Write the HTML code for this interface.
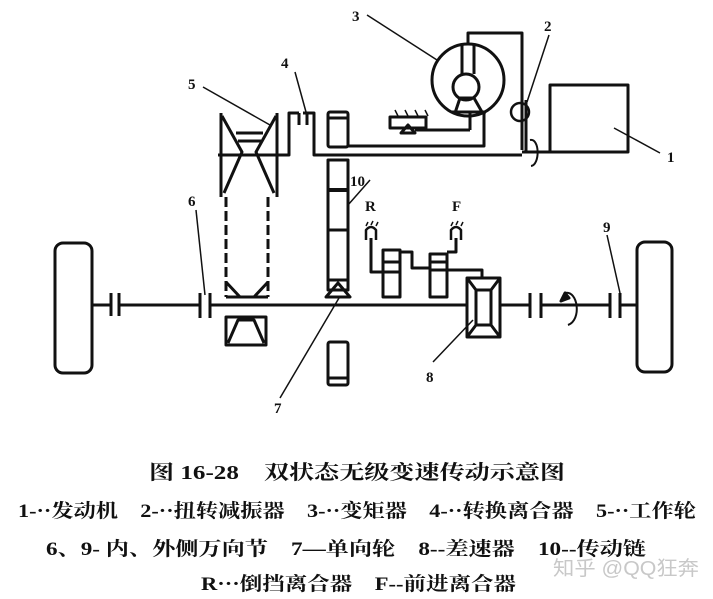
<!DOCTYPE html>
<html><head><meta charset="utf-8"><style>
html,body{margin:0;padding:0;background:#fff}
svg{display:block}
text{font-family:"Liberation Serif","Noto Serif CJK SC",serif;fill:#111}
.c{font-family:"Liberation Serif","Noto Serif CJK SC",serif;font-weight:bold}
</style></head><body>
<svg width="713" height="599" viewBox="0 0 713 599" xmlns="http://www.w3.org/2000/svg">
<g fill="none" stroke="#111" stroke-width="3" stroke-linejoin="round">
<rect x="55" y="243" width="37" height="130" rx="8"/>
<rect x="637" y="242" width="35" height="130" rx="8"/>
<line x1="92" y1="305" x2="112" y2="305"/>
<line x1="118" y1="305" x2="200" y2="305"/>
<line x1="210" y1="305" x2="467" y2="305"/>
<line x1="500" y1="305" x2="530" y2="305"/>
<line x1="541" y1="305" x2="610" y2="305"/>
<line x1="621" y1="305" x2="637" y2="305"/>
<g stroke-width="3">
<line x1="111" y1="293" x2="111" y2="316"/><line x1="119" y1="293" x2="119" y2="316"/>
<line x1="200" y1="293" x2="200" y2="318"/><line x1="210" y1="293" x2="210" y2="318"/>
<line x1="530" y1="293" x2="530" y2="318"/><line x1="541" y1="293" x2="541" y2="318"/>
<line x1="610" y1="293" x2="610" y2="318"/><line x1="620" y1="293" x2="620" y2="318"/>
</g>
<path d="M565 293 C578 290 582 320 568 325" stroke-width="2"/>
<path d="M565 293 l-4 8 l8 -3z" fill="#111"/>
<line x1="221" y1="113" x2="221" y2="197"/>
<line x1="277" y1="113" x2="277" y2="197"/>
<polyline points="222,116 242,152 224,193"/>
<polyline points="276,116 256,152 274,193"/>
<line x1="236" y1="133" x2="263" y2="133"/>
<line x1="238" y1="141" x2="261" y2="141"/>
<polyline points="218,155 289,155 289,113 299,113"/>
<polyline points="299,113 299,125"/>
<polyline points="303,113 314,113 314,155 522,155"/>
<line x1="307" y1="113" x2="307" y2="125"/>
<line x1="226" y1="197" x2="226" y2="297" stroke-dasharray="10 4"/>
<line x1="268" y1="197" x2="268" y2="297" stroke-dasharray="10 4"/>
<path d="M226 282 L240 297 M268 282 L254 297"/>
<line x1="226" y1="297" x2="268" y2="297"/>
<rect x="226" y="317" width="40" height="28"/>
<path d="M228 343 L238 320 L254 320 L264 343"/>
<rect x="328" y="112" width="20" height="35" rx="2"/>
<line x1="328" y1="118" x2="348" y2="118"/>
<rect x="328" y="160" width="20" height="130"/>
<line x1="328" y1="190" x2="348" y2="190" stroke-width="4"/>
<line x1="328" y1="230" x2="348" y2="230" stroke-width="3"/>
<line x1="328" y1="280" x2="348" y2="280"/>
<path d="M326 297 L338 283 L350 297 Z"/>
<rect x="328" y="342" width="20" height="43" rx="2"/>
<line x1="328" y1="378" x2="348" y2="378" stroke-width="3"/>
<circle cx="468" cy="80" r="36"/>
<circle cx="466" cy="87" r="13"/>
<polyline points="468,45 468,33 522,33 522,150"/>
<path d="M462 45 L462 74 M474 45 L474 74"/>
<path d="M455 113 L460 98 L474 98 L482 112 M452 112 L486 112"/>
<rect x="390" y="117" width="36" height="11"/>
<path d="M395 110 l3 6 M405 110 l3 6 M415 110 l3 6 M425 110 l3 6" stroke-width="1.5"/>
<path d="M401 133 L408 125 L415 133 Z"/>
<polyline points="348,146 484,146 484,112"/>
<line x1="415" y1="130" x2="470" y2="130"/>
<polyline points="470,130 470,112"/>
<circle cx="520" cy="112" r="9" stroke-width="2.5"/>
<line x1="526" y1="100" x2="526" y2="152"/>
<line x1="522" y1="152" x2="550" y2="152"/>
<path d="M530 140 C540 138 540 165 531 166" stroke-width="2"/>
<rect x="550" y="85" width="78" height="67"/>
<path d="M366 240 L366 230 Q371 224 376 230 L376 240" stroke-width="2.5"/>
<path d="M366 226 l2 -4 M371 225 l2 -4 M376 226 l2 -4" stroke-width="1.5"/>
<polyline points="371,238 371,272 383,272"/>
<rect x="383" y="250" width="17" height="47"/>
<line x1="383" y1="262" x2="400" y2="262"/><line x1="383" y1="272" x2="400" y2="272"/>
<polyline points="400,252 412,252 412,268 430,268"/>
<rect x="430" y="254" width="17" height="43"/>
<line x1="430" y1="262" x2="447" y2="262"/><line x1="430" y1="270" x2="447" y2="270"/>
<path d="M451 240 L451 230 Q456 224 461 230 L461 240" stroke-width="2.5"/>
<path d="M451 226 l2 -4 M456 225 l2 -4 M461 226 l2 -4" stroke-width="1.5"/>
<polyline points="456,238 456,252 447,252"/>
<polyline points="447,270 482,270 482,278"/>
<rect x="467" y="278" width="33" height="59"/>
<rect x="476" y="290" width="15" height="35"/>
<path d="M467 278 L476 290 M500 278 L491 290 M467 337 L476 325 M500 337 L491 325"/>
</g>
<g stroke="#111" stroke-width="1.5" fill="none">
<line x1="367" y1="15" x2="437" y2="60"/>
<line x1="549" y1="35" x2="527" y2="102"/>
<line x1="614" y1="128" x2="660" y2="153"/>
<line x1="295" y1="72" x2="306" y2="112"/>
<line x1="203" y1="87" x2="270" y2="125"/>
<line x1="196" y1="210" x2="205" y2="295"/>
<line x1="370" y1="180" x2="348" y2="205"/>
<line x1="339" y1="298" x2="280" y2="398"/>
<line x1="473" y1="320" x2="433" y2="362"/>
<line x1="607" y1="235" x2="620" y2="293"/>
</g>
<g class="c" font-size="15">
<text x="352" y="21">3</text>
<text x="544" y="31">2</text>
<text x="667" y="162">1</text>
<text x="281" y="68">4</text>
<text x="188" y="89">5</text>
<text x="188" y="206">6</text>
<text x="350" y="186">10</text>
<text x="365" y="211">R</text>
<text x="452" y="211">F</text>
<text x="274" y="413">7</text>
<text x="426" y="382">8</text>
<text x="603" y="232">9</text>
</g>
<g class="c" font-size="20">
<text x="149" y="479" textLength="416" lengthAdjust="spacingAndGlyphs">图 16-28　双状态无级变速传动示意图</text>
</g>
<g class="c" font-size="19">
<text x="18" y="517" textLength="678" lengthAdjust="spacingAndGlyphs">1-··发动机　2-··扭转减振器　3-··变矩器　4-··转换离合器　5-··工作轮</text>
<text x="46" y="555" textLength="600" lengthAdjust="spacingAndGlyphs">6、9- 内、外侧万向节　7—单向轮　8--差速器　10--传动链</text>
<text x="201" y="590" textLength="315" lengthAdjust="spacingAndGlyphs">R···倒挡离合器　F--前进离合器</text>
</g>
<text x="553" y="575" font-size="20" textLength="146" lengthAdjust="spacingAndGlyphs" style="font-family:'Liberation Sans','Noto Sans CJK SC',sans-serif;fill:#c8c8c8">知乎 @QQ狂奔</text>
</svg>
</body></html>
